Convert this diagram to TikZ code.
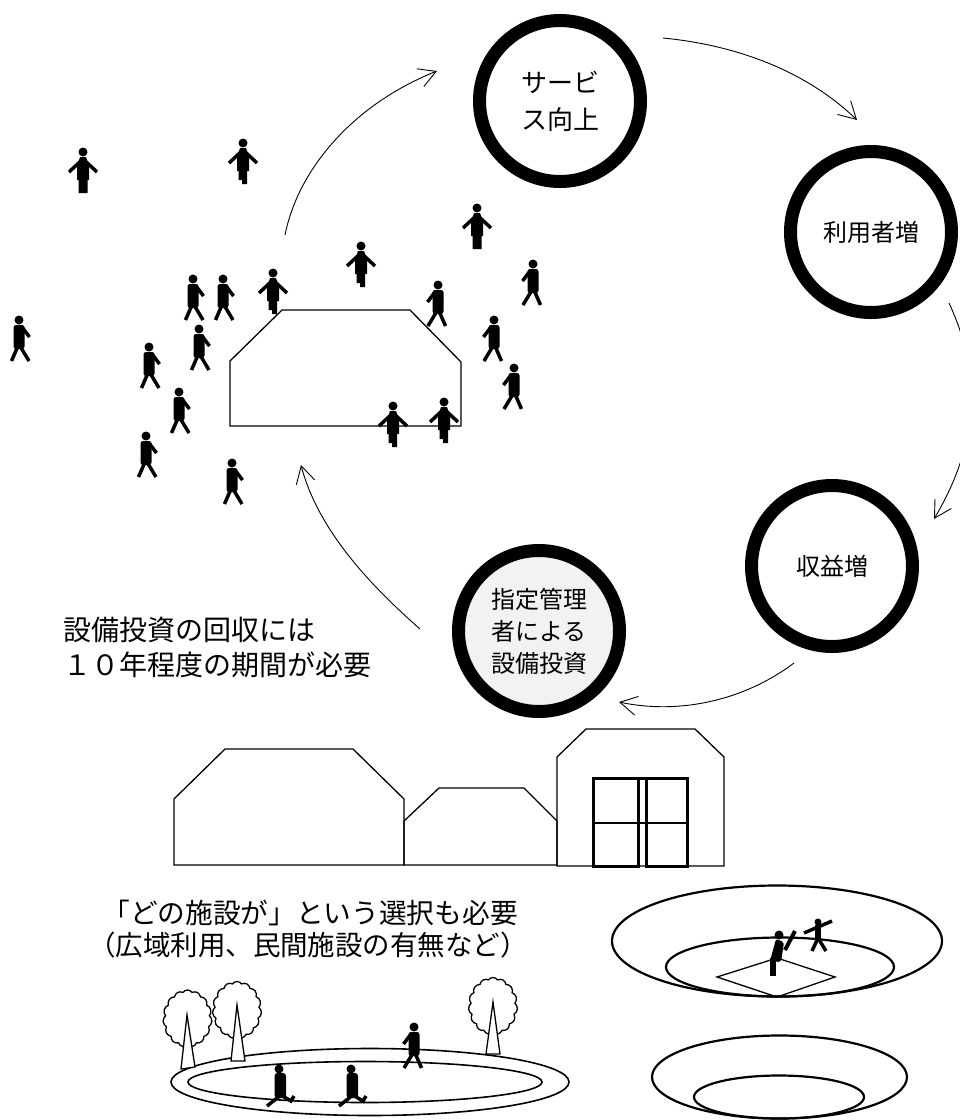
\documentclass[tikz,border=0pt]{standalone}
\usepackage{fontspec}
\setmainfont{Noto Sans CJK JP}
\usetikzlibrary{arrows.meta,shapes.symbols}
\tikzset{
  x=1pt,y=-1pt,
  ring/.style={circle,draw=black,line width=13pt,minimum size=161pt,inner sep=0pt,align=center},
  cycle arrow/.style={line width=0.9pt,-{Straight Barb[length=17pt,width=19pt,line width=0.9pt]}},
  outline/.style={draw=black,line width=1.3pt,line join=miter},
  oval/.style={draw=black,line width=2.2pt},
  track/.style={draw=black,line width=1.6pt},
  txt/.style={inner sep=0pt,align=center},
  limb/.style={draw=black,line width=3.5pt},
  canopy/.style={cloud,draw=black,fill=white,line width=1.3pt,cloud puffs=15,cloud puff arc=110,aspect=0.86,minimum width=49pt,minimum height=57pt,inner sep=0pt},
  trunk/.style={draw=black,fill=white,line width=1.3pt,line join=miter},
  standa/.pic={
    \fill (0,0) circle[radius=4.5];
    \fill (-3,5) -- (3,5) -- (6,14) -- (6,28) -- (4.5,28) -- (4.5,41) -- (-4.5,41) -- (-4.5,28) -- (-6,28) -- (-6,14) -- cycle;
    \draw[limb] (0,7) -- (14,20) (0,7) -- (-14,20);
  },
  standb/.pic={
    \fill (0,0) circle[radius=4.5];
    \fill (-3,5) -- (3,5) -- (6,14) -- (6,28) -- (4,28) -- (4,41) -- (-1,41) -- (-1,37) -- (-4.3,37) -- (-4.3,28) -- (-6,28) -- (-6,14) -- cycle;
    \draw[limb] (0,7) -- (14,20) (0,7) -- (-14,20);
  },
  walker/.pic={
    \fill (0,0) circle[radius=4.5];
    \fill[rounded corners=2.5pt] (-5.5,5) rectangle (5.5,29);
    \draw[limb] (3,7) -- (10.5,17);
    \draw[limb] (-1,26) -- (-7.5,41);
    \draw[limb] (1,26) -- (10,41);
  },
  sitter/.pic={
    \fill (0,0) circle[radius=4.5];
    \fill[rounded corners=3pt] (-4.5,4) rectangle (7,29);
    \draw[limb] (2,26) -- (-12,37);
    \draw[limb] (2,26) -- (12,32) -- (15,27);
  },
}
\begin{document}
\begin{tikzpicture}
\path[use as bounding box,clip] (0,0) rectangle (960,1120);
\fill[white] (0,0) rectangle (960,1120);

% cycle circles
\node[ring,font=\fontsize{26}{37}\selectfont] (service) at (560,101) {サービ\\ス向上};
\node[ring,font=\fontsize{24}{32}\selectfont] (users) at (871,232) {利用者増};
\node[ring,font=\fontsize{24}{32}\selectfont] (revenue) at (832,566) {収益増};
\node[ring,fill=black!5,font=\fontsize{24}{32}\selectfont] (invest) at (539,631) {指定管理\\者による\\設備投資};

% connector ends
\coordinate (a1s) at (285,235); \coordinate (a1e) at (437,71);
\coordinate (a2s) at (663,38);  \coordinate (a2e) at (857,120);
\coordinate (a3s) at (949,303); \coordinate (a3e) at (934,519);
\coordinate (a4s) at (794,663); \coordinate (a4e) at (619,702);
\coordinate (a5s) at (420,629); \coordinate (a5e) at (301,465);
\draw[cycle arrow] (a1s) .. controls (298,170) and (352,105) .. (a1e);
\draw[cycle arrow] (a2s) .. controls (735,45) and (805,70) .. (a2e);
\draw[cycle arrow] (a3s) .. controls (985,380) and (975,450) .. (a3e);
\draw[cycle arrow] (a4s) .. controls (745,700) and (680,715) .. (a4e);
\draw[cycle arrow] (a5s) .. controls (370,585) and (318,530) .. (a5e);

% upper building
\draw[outline] (230,426) -- (230,361) -- (282,310) -- (410,310) -- (461,362) -- (461,426) -- cycle;

% people
\foreach \px/\py in {83/152,477/208} \pic at (\px,\py) {standa};
\foreach \px/\py in {243/143,273/273,361/246,393/406,444/402} \pic at (\px,\py) {standb};
\foreach \px/\py in {19/320,149/347,193/279,223/279,199/329,179/392,146/436,232/463} \pic at (\px,\py) {walker};
\foreach \px/\py in {533/264,438/285,494/320,514/368} \pic[xscale=-1] at (\px,\py) {walker};

% texts
\node[txt,anchor=west,font=\fontsize{28}{33}\selectfont] (t1a) at (63,630) {設備投資の回収には};
\node[txt,anchor=west,font=\fontsize{28}{33}\selectfont] (t1b) at (63,665) {１０年程度の期間が必要};
\node[txt,anchor=east,font=\fontsize{27.7}{33}\selectfont] (t2a) at (518,913) {「どの施設が」という選択も必要};
\node[txt,font=\fontsize{27.5}{33}\selectfont] (t2b) at (308,945) {（広域利用、民間施設の有無など）};

% lower buildings
\draw[outline] (174,865) -- (174,799) -- (225,749) -- (353,749) -- (404,799) -- (404,865) -- cycle;
\draw[outline] (404,865) -- (404,821) -- (439,788) -- (524,788) -- (557,821) -- (557,865) -- cycle;
\draw[outline] (557,866) -- (557,757) -- (586,729) -- (695,729) -- (724,757) -- (724,866) -- cycle;
\draw[line width=3pt] (593,778) rectangle (638,866);
\draw[line width=3pt] (646,778) rectangle (687,866);
\draw[line width=3pt] (638,778) -- (646,778);
\draw[line width=2.4pt] (593,823) -- (687,823);

% baseball field
\draw[oval] (777,941) ellipse[x radius=165,y radius=55.5];
\draw[oval] (780,967) ellipse[x radius=114,y radius=29.5];
\draw[outline] (717,977) -- (777,958) -- (835,977) -- (777,997) -- cycle;
\fill (779,935) circle[radius=4.5];
\fill[rounded corners=2pt] (776,939) -- (784,942) -- (781,962) -- (770,961) -- cycle;
\fill (770,958) rectangle (776,976);
\draw[line width=4pt] (785,950) -- (795,931);
\fill (818,922) circle[radius=3.5];
\draw[limb] (804,933) -- (832,921);
\draw[line width=6pt] (818,925) -- (818,940);
\draw[limb] (818,938) -- (812,951);
\draw[limb] (818,938) -- (826,951);

% lower ovals
\draw[oval] (779.5,1077) ellipse[x radius=127.5,y radius=41.5];
\draw[oval] (779,1097) ellipse[x radius=85,y radius=21.5];

% track and trees
\draw[track] (370,1082) ellipse[x radius=199,y radius=33.5];
\draw[track] (365,1082) ellipse[x radius=177,y radius=20.5];
\foreach \cx/\cy/\ax/\ay/\lx/\ly/\rx/\ry/\nm in {
  187.5/1018.5/187/1015/181/1069/195/1067/a,
  237/1010/237/1005/231/1061/245/1061/b,
  493/1006/493/1002/486/1054/500/1054/c}{
  \node[canopy] (tree\nm) at (\cx,\cy) {};
  \draw[trunk] (\ax,\ay) -- (\rx,\ry) -- (\lx,\ly) -- cycle;
}
\pic[xscale=-1] at (414,1027) {walker};
\foreach \px/\py in {279/1069,351/1069} \pic at (\px,\py) {sitter};
\end{tikzpicture}
\end{document}
